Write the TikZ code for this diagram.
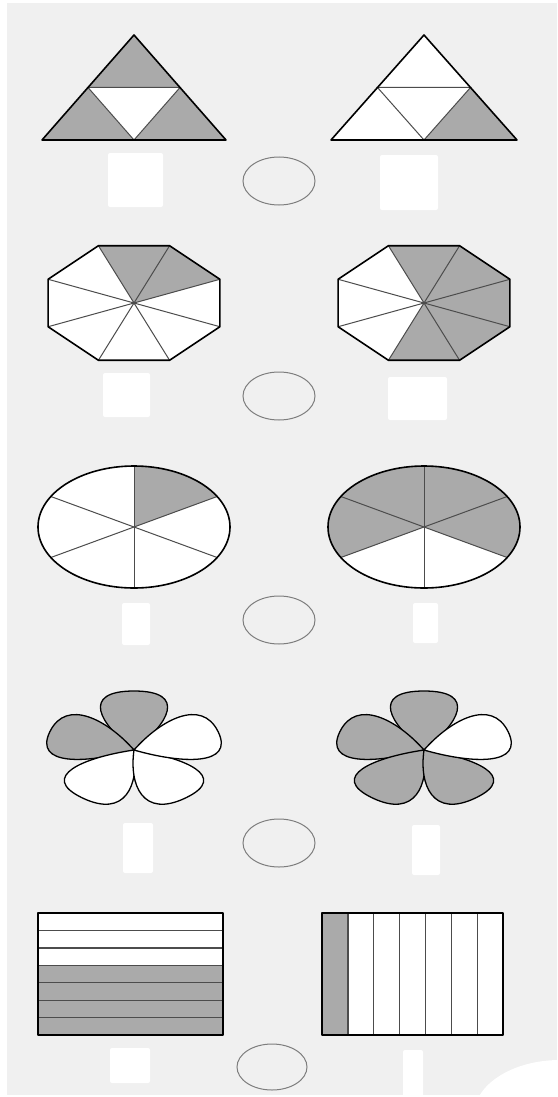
\documentclass[tikz,border=0pt]{standalone}
\definecolor{paper}{RGB}{240,240,240}
\definecolor{shaded}{RGB}{170,170,170}
\definecolor{ring}{RGB}{125,125,125}
\tikzset{
  outline/.style={draw=black,line width=1.6pt,line join=round},
  inner/.style={draw=black!70,line width=1pt},
  ans/.style={draw=ring,line width=1pt},
  patch/.style={fill=white,rounded corners=2pt},
}
\begin{document}
\begin{tikzpicture}[x=1pt,y=-1pt]
  \useasboundingbox (0,0) rectangle (557,1097);
  \fill[paper] (7,3) rectangle (557,1095);
  % triangles
  \begin{scope}[shift={(134,35)}]
    \fill[shaded] (0,0) -- (-92,105) -- (92,105) -- cycle;
    \fill[white] (-46,52.5) -- (46,52.5) -- (0,105) -- cycle;
    \draw[inner] (-46,52.5) -- (46,52.5) -- (0,105) -- cycle;
    \draw[outline] (0,0) -- (-92,105) -- (92,105) -- cycle;
  \end{scope}
  \begin{scope}[shift={(424,35)}]
    \fill[white] (0,0) -- (-93,105) -- (93,105) -- cycle;
    \fill[shaded] (46.5,52.5) -- (0,105) -- (93,105) -- cycle;
    \draw[inner] (-46.5,52.5) -- (46.5,52.5) -- (0,105) -- cycle;
    \draw[outline] (0,0) -- (-93,105) -- (93,105) -- cycle;
  \end{scope}
  % octagons
  \foreach \cx/\list in {134/{0,1},424/{5,6,7,0,1}} {
    \begin{scope}[shift={(\cx,303)},xscale=1.5,yscale=-1]
      \fill[white] (22.5:62) \foreach \k in {1,...,7} {-- ({22.5+45*\k}:62)} -- cycle;
      \foreach \k in \list
        \fill[shaded] (0,0) -- ({22.5+45*\k}:62) -- ({67.5+45*\k}:62) -- cycle;
      \foreach \k in {0,...,7}
        \draw[inner] (0,0) -- ({22.5+45*\k}:62);
      \draw[outline] (22.5:62) \foreach \k in {1,...,7} {-- ({22.5+45*\k}:62)} -- cycle;
    \end{scope}
  }
  % ellipses
  \foreach \cx/\list in {134/{30},424/{-30,30,90,150}} {
    \begin{scope}[shift={(\cx,527)},xscale=1.5,yscale=-1]
      \fill[white] (0,0) ellipse [x radius=64,y radius=61];
      \foreach \a in \list
        \fill[shaded] (0,0) -- (\a:64 and 61)
          arc [start angle=\a,delta angle=60,x radius=64,y radius=61] -- cycle;
      \foreach \a in {30,90,...,330}
        \draw[inner] (0,0) -- (\a:64 and 61);
      \draw[outline] (0,0) ellipse [x radius=64,y radius=61];
    \end{scope}
  }
  % flowers
  \foreach \cx/\list in {134/{90/shaded,162/shaded,234/white,306/white,18/white},
                         424/{90/shaded,162/shaded,234/shaded,306/shaded,18/white}} {
    \begin{scope}[shift={(\cx,750)},xscale=1.5,yscale=-1]
      \foreach \a/\c in \list
        \draw[outline,line width=1.3pt,fill=\c,rotate=-\a] (0,0)
          .. controls (26,-23) and (59,-36) .. (59,0)
          .. controls (59,36) and (26,23) .. (0,0);
    \end{scope}
  }
  % rectangles
  \fill[white] (38,913) rectangle (223,1035);
  \fill[shaded] (38,965.3) rectangle (223,1035);
  \foreach \i in {1,...,6}
    \draw[inner,line width=1.3pt] (38,{913+17.43*\i}) -- (223,{913+17.43*\i});
  \draw[outline] (38,913) rectangle (223,1035);
  \fill[white] (322,913) rectangle (503,1035);
  \fill[shaded] (322,913) rectangle (347.9,1035);
  \foreach \i in {1,...,6}
    \draw[inner,line width=1.3pt] ({322+25.86*\i},913) -- ({322+25.86*\i},1035);
  \draw[outline] (322,913) rectangle (503,1035);
  % answer rings
  \foreach \y in {181,396,620,843}
    \draw[ans] (279,\y) ellipse [x radius=36,y radius=24];
  \draw[ans] (272,1067) ellipse [x radius=35,y radius=23];
  % blanked labels
  \fill[patch] (108,153) rectangle (163,207);
  \fill[patch] (380,155) rectangle (438,210);
  \fill[patch] (103,373) rectangle (150,417);
  \fill[patch] (388,377) rectangle (447,420);
  \fill[patch] (122,603) rectangle (150,645);
  \fill[patch] (413,603) rectangle (438,643);
  \fill[patch] (123,823) rectangle (153,873);
  \fill[patch] (412,825) rectangle (440,875);
  \fill[patch] (110,1048) rectangle (150,1083);
  \fill[patch] (403,1050) rectangle (423,1097);
  \begin{scope}
    \clip (0,0) rectangle (557,1097);
    \fill[white] (560,1115) ellipse [x radius=86,y radius=55];
  \end{scope}
\end{tikzpicture}
\end{document}
